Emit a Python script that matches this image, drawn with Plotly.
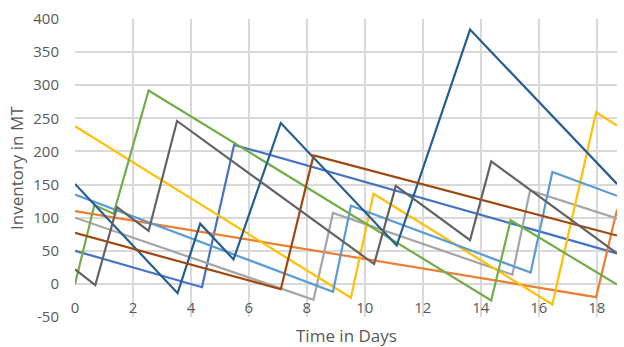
import plotly.graph_objects as go

# Data (time in days, inventory in MT)
blue_x = [0, 4.38, 5.49, 18.7]
blue_y = [50, -5, 210, 46]
orange_x = [0, 17.98, 18.7]
orange_y = [110, -20, 112]
gray_x = [0, 8.23, 8.9, 15.09, 15.7, 18.7]
gray_y = [100, -24, 107, 14, 141, 99]
gold_x = [0, 9.52, 10.3, 16.47, 17.98, 18.7]
gold_y = [238, -21, 136, -31, 259, 239]
lightblue_x = [0, 8.9, 9.52, 15.72, 16.47, 18.7]
lightblue_y = [135, -12, 118, 17, 169, 133]
green_x = [0, 0.67, 1.33, 2.54, 14.36, 15.03, 18.7]
green_y = [0, 119, 106, 292, -25, 96, -1]
darkblue_x = [0, 3.54, 4.32, 5.47, 7.10, 11.1, 13.63, 18.7]
darkblue_y = [151, -14, 91, 37, 243, 58, 384, 151]
brown_x = [0, 7.10, 8.23, 18.7]
brown_y = [77, -8, 194, 73]
darkgray_x = [0, 0.70, 1.45, 2.54, 3.52, 10.32, 11.07, 13.63, 14.36, 18.7]
darkgray_y = [22, -2, 116, 80, 246, 30, 148, 66, 185, 46]

x_ticks = [0, 2, 4, 6, 8, 10, 12, 14, 16, 18]
y_ticks = [-50, 0, 50, 100, 150, 200, 250, 300, 350, 400]
y_tick_labels = ["-50", "0", "50", "100", "150", "200", "250", "300", "350", "400"]

series = [
    (blue_x, blue_y, "#4472C4"),
    (orange_x, orange_y, "#ED7D31"),
    (gray_x, gray_y, "#A5A5A5"),
    (gold_x, gold_y, "#FFC000"),
    (lightblue_x, lightblue_y, "#5B9BD5"),
    (green_x, green_y, "#70AD47"),
    (darkblue_x, darkblue_y, "#255E91"),
    (brown_x, brown_y, "#9E480E"),
    (darkgray_x, darkgray_y, "#636363"),
]

fig = go.Figure()
for xs, ys, col in series:
    fig.add_trace(go.Scatter(x=xs, y=ys, mode="lines",
                             line=dict(color=col, width=2.2),
                             showlegend=False, hoverinfo="skip"))

font_fam = "Open Sans, Liberation Sans, sans-serif"
tick_col = "#595959"

fig.update_layout(
    width=624, height=347,
    margin=dict(l=75, r=7, t=19, b=30),
    paper_bgcolor="white", plot_bgcolor="white",
    font=dict(family=font_fam, size=15, color=tick_col),
    xaxis=dict(range=[0, 18.7], tickvals=x_ticks, showgrid=True,
               gridcolor="#D9D9D9", gridwidth=1.5, zeroline=False,
               showline=False, anchor="free", position=50 / 450,
               ticks="", ticklabelstandoff=13,
               tickfont=dict(size=15, color=tick_col)),
    yaxis=dict(range=[-50, 400], tickvals=y_ticks, ticktext=y_tick_labels,
               showgrid=True,
               gridcolor="#D9D9D9", gridwidth=1.5, zeroline=False,
               showline=False, ticks="", ticklabelstandoff=15,
               tickfont=dict(size=15, color=tick_col)),
    annotations=[
        dict(text="Time in Days", xref="paper", yref="paper", x=0.5, y=0.0,
             yshift=-18, showarrow=False, yanchor="middle",
             font=dict(size=17, color=tick_col)),
        dict(text="Inventory in MT", xref="paper", yref="paper", x=0, y=0.5,
             xshift=-59, showarrow=False, textangle=-90, xanchor="center",
             font=dict(size=17, color=tick_col)),
    ],
)

fig.write_html("out.html")
